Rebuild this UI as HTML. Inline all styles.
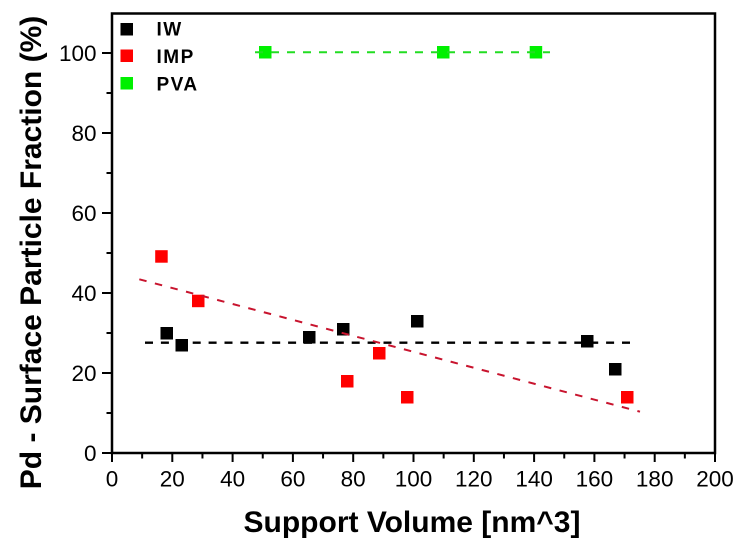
<!DOCTYPE html>
<html><head><meta charset="utf-8"><style>
html,body{margin:0;padding:0;background:#fff;}
svg{display:block;}
text{font-family:"Liberation Sans",Arial,sans-serif;}
</style></head><body>
<svg width="745" height="547" viewBox="0 0 745 547" xmlns="http://www.w3.org/2000/svg">
<rect width="745" height="547" fill="#fff"/>
<!-- axes frame -->
<rect x="112" y="13.5" width="603" height="439.5" fill="none" stroke="#000" stroke-width="2.5"/>
<!-- x ticks -->
<g stroke="#000" stroke-width="2">
<line x1="112" y1="453" x2="112" y2="462"/>
<line x1="142.15" y1="453" x2="142.15" y2="458.5"/>
<line x1="172.3" y1="453" x2="172.3" y2="462"/>
<line x1="202.45" y1="453" x2="202.45" y2="458.5"/>
<line x1="232.6" y1="453" x2="232.6" y2="462"/>
<line x1="262.75" y1="453" x2="262.75" y2="458.5"/>
<line x1="292.9" y1="453" x2="292.9" y2="462"/>
<line x1="323.05" y1="453" x2="323.05" y2="458.5"/>
<line x1="353.2" y1="453" x2="353.2" y2="462"/>
<line x1="383.35" y1="453" x2="383.35" y2="458.5"/>
<line x1="413.5" y1="453" x2="413.5" y2="462"/>
<line x1="443.65" y1="453" x2="443.65" y2="458.5"/>
<line x1="473.8" y1="453" x2="473.8" y2="462"/>
<line x1="503.95" y1="453" x2="503.95" y2="458.5"/>
<line x1="534.1" y1="453" x2="534.1" y2="462"/>
<line x1="564.25" y1="453" x2="564.25" y2="458.5"/>
<line x1="594.4" y1="453" x2="594.4" y2="462"/>
<line x1="624.55" y1="453" x2="624.55" y2="458.5"/>
<line x1="654.7" y1="453" x2="654.7" y2="462"/>
<line x1="684.85" y1="453" x2="684.85" y2="458.5"/>
<line x1="715" y1="453" x2="715" y2="462"/>
</g>
<!-- y ticks -->
<g stroke="#000" stroke-width="2">
<line x1="102" y1="453" x2="112" y2="453"/>
<line x1="106.5" y1="413" x2="112" y2="413"/>
<line x1="102" y1="373" x2="112" y2="373"/>
<line x1="106.5" y1="333" x2="112" y2="333"/>
<line x1="102" y1="293" x2="112" y2="293"/>
<line x1="106.5" y1="253" x2="112" y2="253"/>
<line x1="102" y1="213" x2="112" y2="213"/>
<line x1="106.5" y1="173" x2="112" y2="173"/>
<line x1="102" y1="133" x2="112" y2="133"/>
<line x1="106.5" y1="93" x2="112" y2="93"/>
<line x1="102" y1="53" x2="112" y2="53"/>
</g>
<!-- x tick labels -->
<g font-size="22.5" text-anchor="middle" fill="#000">
<text x="112" y="486.5">0</text>
<text x="172.3" y="486.5">20</text>
<text x="232.6" y="486.5">40</text>
<text x="292.9" y="486.5">60</text>
<text x="353.2" y="486.5">80</text>
<text x="413.5" y="486.5">100</text>
<text x="473.8" y="486.5">120</text>
<text x="534.1" y="486.5">140</text>
<text x="594.4" y="486.5">160</text>
<text x="654.7" y="486.5">180</text>
<text x="715" y="486.5">200</text>
</g>
<!-- y tick labels -->
<g font-size="22.5" text-anchor="end" fill="#000">
<text x="96.5" y="461">0</text>
<text x="96.5" y="381">20</text>
<text x="96.5" y="301">40</text>
<text x="96.5" y="221">60</text>
<text x="96.5" y="141">80</text>
<text x="96.5" y="61">100</text>
</g>
<!-- axis titles -->
<text x="412" y="532" font-size="30" font-weight="bold" text-anchor="middle" fill="#000">Support Volume [nm^3]</text>
<text transform="translate(41,252.5) rotate(-90)" font-size="30" font-weight="bold" text-anchor="middle" fill="#000">Pd - Surface Particle Fraction (%)</text>
<!-- legend -->
<rect x="120.5" y="23" width="12.5" height="12.5" fill="#000"/>
<rect x="120.5" y="49.5" width="12.5" height="12.5" fill="#f00"/>
<rect x="120.5" y="77" width="12.5" height="12.5" fill="#00f000"/>
<g font-size="19" font-weight="bold" letter-spacing="1.5" fill="#000">
<text x="156.5" y="35.5">IW</text>
<text x="156.5" y="63">IMP</text>
<text x="156.5" y="90.5">PVA</text>
</g>
<!-- markers -->
<g fill="#000">
<rect x="160.5" y="327" width="12.5" height="12.5"/>
<rect x="175.5" y="339" width="12.5" height="12.5"/>
<rect x="303" y="331" width="12.5" height="12.5"/>
<rect x="337" y="323" width="12.5" height="12.5"/>
<rect x="411" y="315" width="12.5" height="12.5"/>
<rect x="581" y="335" width="12.5" height="12.5"/>
<rect x="609" y="363" width="12.5" height="12.5"/>
</g>
<g fill="#f00">
<rect x="155.2" y="250.2" width="12.5" height="12.5"/>
<rect x="192" y="294.7" width="12.5" height="12.5"/>
<rect x="341" y="375" width="12.5" height="12.5"/>
<rect x="373" y="347" width="12.5" height="12.5"/>
<rect x="401" y="391" width="12.5" height="12.5"/>
<rect x="621" y="391" width="12.5" height="12.5"/>
</g>
<g fill="#00f000">
<rect x="259" y="46" width="12.5" height="12.5"/>
<rect x="437" y="46" width="12.5" height="12.5"/>
<rect x="529.7" y="46" width="12.5" height="12.5"/>
</g>
<!-- fit lines -->
<line x1="145" y1="342.7" x2="630" y2="342.7" stroke="#000" stroke-width="2.3" stroke-dasharray="8 7.9"/>
<line x1="139.3" y1="279.3" x2="640" y2="411.7" stroke="#c8142e" stroke-width="2" stroke-dasharray="7.5 8.6"/>
<line x1="255" y1="52.3" x2="550" y2="52.3" stroke="#22dd22" stroke-width="2" stroke-dasharray="8 8"/>
</svg>
</body></html>
